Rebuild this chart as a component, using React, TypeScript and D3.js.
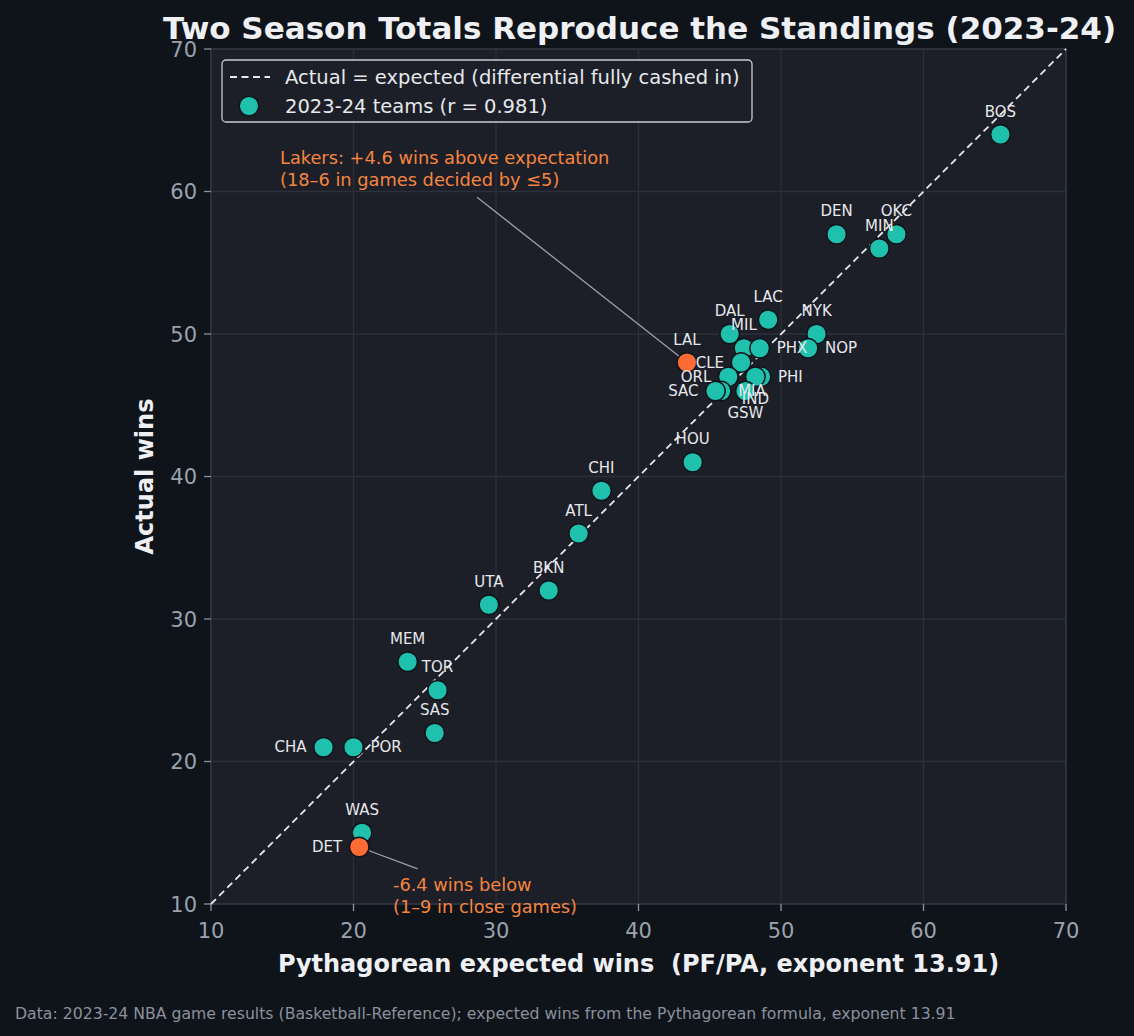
import React from "react";
import * as d3 from "d3";

const teams = ["BOS","DEN","OKC","MIN","LAC","NYK","NOP","DAL","MIL","PHX","CLE","LAL","ORL","PHI","IND","MIA","SAC","GSW","HOU","CHI","ATL","BKN","UTA","MEM","TOR","SAS","CHA","POR","WAS","DET"];
const expectedWins = [65.4,53.9,58.1,56.9,49.1,52.5,51.9,46.4,47.4,48.5,47.2,43.4,46.3,48.6,48.2,45.8,45.4,47.5,43.8,37.4,35.8,33.7,29.5,23.8,25.9,25.7,17.9,20.0,20.6,20.4];
const actualWins = [64,57,57,56,51,50,49,50,49,49,48,48,47,47,47,46,46,46,41,39,36,32,31,27,25,22,21,21,15,14];
const highlighted = ["LAL","DET"];
const ticks = [10,20,30,40,50,60,70];

const W = 1134, H = 1036;
const M = { left: 211, right: 1066, top: 49, bottom: 904 };

// label placement: direction relative to the marker
const labelSide: Record<string, string> = {
  NOP: "right", PHX: "right", PHI: "right", MIA: "right", POR: "right",
  CLE: "left", ORL: "left", SAC: "left", CHA: "left", DET: "left",
  IND: "below", GSW: "below",
};

export default function App() {
  const x = d3.scaleLinear().domain([10, 70]).range([M.left, M.right]);
  const y = d3.scaleLinear().domain([10, 70]).range([M.bottom, M.top]);
  const font = "DejaVu Sans, sans-serif";
  const teal = "#1fc1ad";
  const orange = "#ff6b35";
  const annoColor = "#f5853f";
  const pts = teams.map((t, i) => ({ t, ex: expectedWins[i], ac: actualWins[i] }));
  const line = d3.line<number>().x((d) => x(d)).y((d) => y(d));

  return (
    <svg width={W} height={H} style={{ position: "absolute", left: 0, top: 0 }} fontFamily={font}>
      <rect width={W} height={H} fill="#0f131a" />
      <rect x={M.left} y={M.top} width={M.right - M.left} height={M.bottom - M.top} fill="#1c1f27" />
      {ticks.map((v) => (
        <g key={"g" + v}>
          <line x1={x(v)} x2={x(v)} y1={M.top} y2={M.bottom} stroke="#2b303b" strokeWidth={1.3} />
          <line x1={M.left} x2={M.right} y1={y(v)} y2={y(v)} stroke="#2b303b" strokeWidth={1.3} />
        </g>
      ))}
      <rect x={M.left} y={M.top} width={M.right - M.left} height={M.bottom - M.top} fill="none" stroke="#2f3440" strokeWidth={1.5} />
      {ticks.map((v) => (
        <g key={"t" + v}>
          <line x1={x(v)} x2={x(v)} y1={M.bottom} y2={M.bottom + 7} stroke="#8a93a0" strokeWidth={1.3} />
          <text x={x(v)} y={M.bottom + 34} fill="#9aa3ad" fontSize={21} textAnchor="middle">{v}</text>
          <line x1={M.left - 7} x2={M.left} y1={y(v)} y2={y(v)} stroke="#8a93a0" strokeWidth={1.3} />
          <text x={M.left - 14} y={y(v) + 7.5} fill="#9aa3ad" fontSize={21} textAnchor="end">{v}</text>
        </g>
      ))}
      {/* diagonal */}
      <path d={line([10, 70]) ?? ""} stroke="#e8e8ec" strokeWidth={1.8} strokeDasharray="7,4.5" fill="none" />
      {/* annotation lines */}
      <line x1={x(28.67)} y1={y(59.6)} x2={x(43.4)} y2={y(48)} stroke="#9aa0a8" strokeWidth={1.3} />
      <line x1={x(24.5)} y1={y(12.46)} x2={x(20.4)} y2={y(14)} stroke="#9aa0a8" strokeWidth={1.3} />
      {/* points */}
      {pts.map((p) => (
        <circle key={p.t} cx={x(p.ex)} cy={y(p.ac)} r={9.8}
          fill={highlighted.includes(p.t) ? orange : teal} stroke="#0f131a" strokeWidth={1.5} />
      ))}
      {/* labels */}
      {pts.map((p) => {
        const side = labelSide[p.t] ?? "above";
        const cx = x(p.ex), cy = y(p.ac);
        let tx = cx, ty = cy - 18, anchor = "middle";
        if (side === "right") { tx = cx + 17; ty = cy + 5; anchor = "start"; }
        if (side === "left") { tx = cx - 17; ty = cy + 5; anchor = "end"; }
        if (side === "below") { tx = cx; ty = cy + 27; anchor = "middle"; }
        return (
          <text key={"l" + p.t} x={tx} y={ty} fill="#e6e8ec" fontSize={15} textAnchor={anchor}>{p.t}</text>
        );
      })}
      {/* annotations text */}
      <text x={x(14.84)} y={y(61.9)} fill={annoColor} fontSize={17.8}>
        <tspan x={x(14.84)}>Lakers: +4.6 wins above expectation</tspan>
        <tspan x={x(14.84)} dy={21.5}>(18–6 in games decided by ≤5)</tspan>
      </text>
      <text x={x(22.77)} y={y(10.9)} fill={annoColor} fontSize={17.8}>
        <tspan x={x(22.77)}>-6.4 wins below</tspan>
        <tspan x={x(22.77)} dy={21.5}>(1–9 in close games)</tspan>
      </text>
      {/* legend */}
      <rect x={222} y={60} width={530} height={62} rx={4} fill="#1c1f27" stroke="#c8ccd2" strokeWidth={1.3} />
      <line x1={230} x2={270} y1={77} y2={77} stroke="#e8e8ec" strokeWidth={1.8} strokeDasharray="7,4.5" />
      <text x={285} y={83.5} fill="#e6e8ec" fontSize={19.5}>Actual = expected (differential fully cashed in)</text>
      <circle cx={249} cy={106} r={9.8} fill={teal} stroke="#0f131a" strokeWidth={1.5} />
      <text x={285} y={112.5} fill="#e6e8ec" fontSize={19.5}>2023-24 teams (r = 0.981)</text>
      {/* titles */}
      <text x={(M.left + M.right) / 2 + 1} y={39} fill="#eef0f3" fontSize={31} fontWeight="bold" textAnchor="middle">
        Two Season Totals Reproduce the Standings (2023-24)
      </text>
      <text x={(M.left + M.right) / 2} y={972} fill="#eef0f3" fontSize={24} fontWeight="bold" textAnchor="middle" style={{ whiteSpace: "pre" }}>
        {"Pythagorean expected wins  (PF/PA, exponent 13.91)"}
      </text>
      <text transform={`translate(153,${(M.top + M.bottom) / 2}) rotate(-90)`} fill="#eef0f3" fontSize={24} fontWeight="bold" textAnchor="middle">
        Actual wins
      </text>
      <text x={15} y={1019} fill="#8a919c" fontSize={15.7}>
        Data: 2023-24 NBA game results (Basketball-Reference); expected wins from the Pythagorean formula, exponent 13.91
      </text>
    </svg>
  );
}
